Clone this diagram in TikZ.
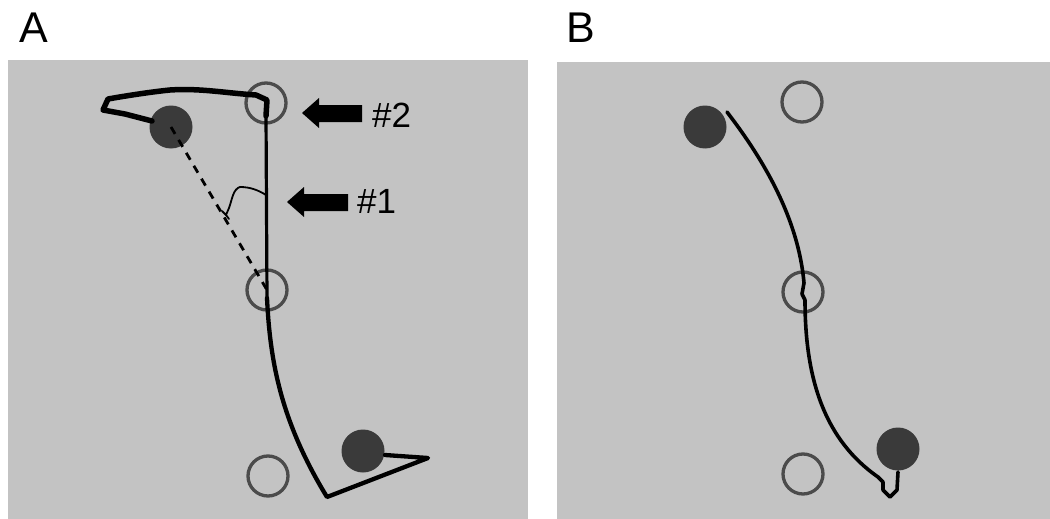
\documentclass[tikz,border=0pt]{standalone}
\usepackage{fontspec}
\setmainfont{Liberation Sans}
\begin{document}
\begin{tikzpicture}[x=1pt,y=-1pt,
  panel/.style={fill=bgray, draw=none},
  target/.style={circle, draw=ringgray, line width=3.3pt, minimum size=40pt, inner sep=0pt},
  dot/.style={circle, fill=dotgray, minimum size=43pt, inner sep=0pt},
  traj/.style={draw=black, line join=round, line cap=round},
  bigarrow/.style={fill=black},
  panellabel/.style={anchor=base west, inner sep=0pt, font=\fontsize{43}{43}\selectfont},
  tag/.style={anchor=base west, inner sep=0pt, font=\fontsize{35}{35}\selectfont}]
\definecolor{bgray}{RGB}{195,195,195}
\definecolor{ringgray}{RGB}{75,75,75}
\definecolor{dotgray}{RGB}{58,58,58}
\fill[white] (0,0) rectangle (1050,519);
\useasboundingbox (0,0) rectangle (1050,519);
% panels
\fill[panel] (8,60) rectangle (528,519);
\fill[panel] (557,62) rectangle (1050,519);
\node[panellabel] (la) at (19,43) {A};
\node[panellabel] (lb) at (566,43) {B};
% ---------- Panel A ----------
\node[target] (a1) at (266,103) {};
\node[target] (a2) at (267,290) {};
\node[target] (a3) at (268,476) {};
\node[dot] (ad1) at (171,127) {};
\node[dot] (ad2) at (363,451) {};
% dashed straight line
\draw[black, line width=2.8pt, dash pattern=on 8pt off 7pt] (ad1.center) -- (a2.center);
% thick top segment
\draw[traj, line width=5.5pt] (266,116) -- (267,100) -- (256,95)
  .. controls (225,93) and (200,88) .. (170,90)
  .. controls (150,92) and (125,96) .. (108,99) -- (103,110) -- (125,114) -- (152,121);
% vertical thinner segment
\draw[traj, line width=3.2pt] (266,114) -- (267,300);
% lower curve
\draw[traj, line width=4.3pt] (267,298) .. controls (270,360) and (280,420) .. (327,497)
  -- (428,458) -- (385,455);
% squiggle
\draw[traj, line width=1.8pt] (266,195) .. controls (258,190) and (250,187) .. (240,187)
  .. controls (233,189) and (232,200) .. (229,208) -- (226,215) -- (222,211);
\draw[traj, line width=1.8pt] (226,215) -- (229,219);
% arrows and tags
\fill[bigarrow] (302,113) -- (319,98) -- (319,105) -- (362,105) -- (362,122) -- (319,122) -- (319,128) -- cycle;
\node[tag] (t2) at (372,127) {\#2};
\fill[bigarrow] (287,202) -- (304,187) -- (304,194) -- (348,194) -- (348,211) -- (304,211) -- (304,217) -- cycle;
\node[tag] (t1) at (357,213) {\#1};
% ---------- Panel B ----------
\node[target] (b1) at (802,102) {};
\node[target] (b2) at (803,292) {};
\node[target] (b3) at (803,474) {};
\node[dot] (bd1) at (705,127) {};
\node[dot] (bd2) at (898,449) {};
\draw[traj, line width=3.6pt] (727,112)
  .. controls (760,155) and (798,215) .. (804,283)
  -- (802,294) -- (805,300)
  .. controls (805,380) and (825,440) .. (878,477)
  -- (883,482) -- (883,490) -- (890,497) -- (897,490) -- (898,472);
\end{tikzpicture}
\end{document}
